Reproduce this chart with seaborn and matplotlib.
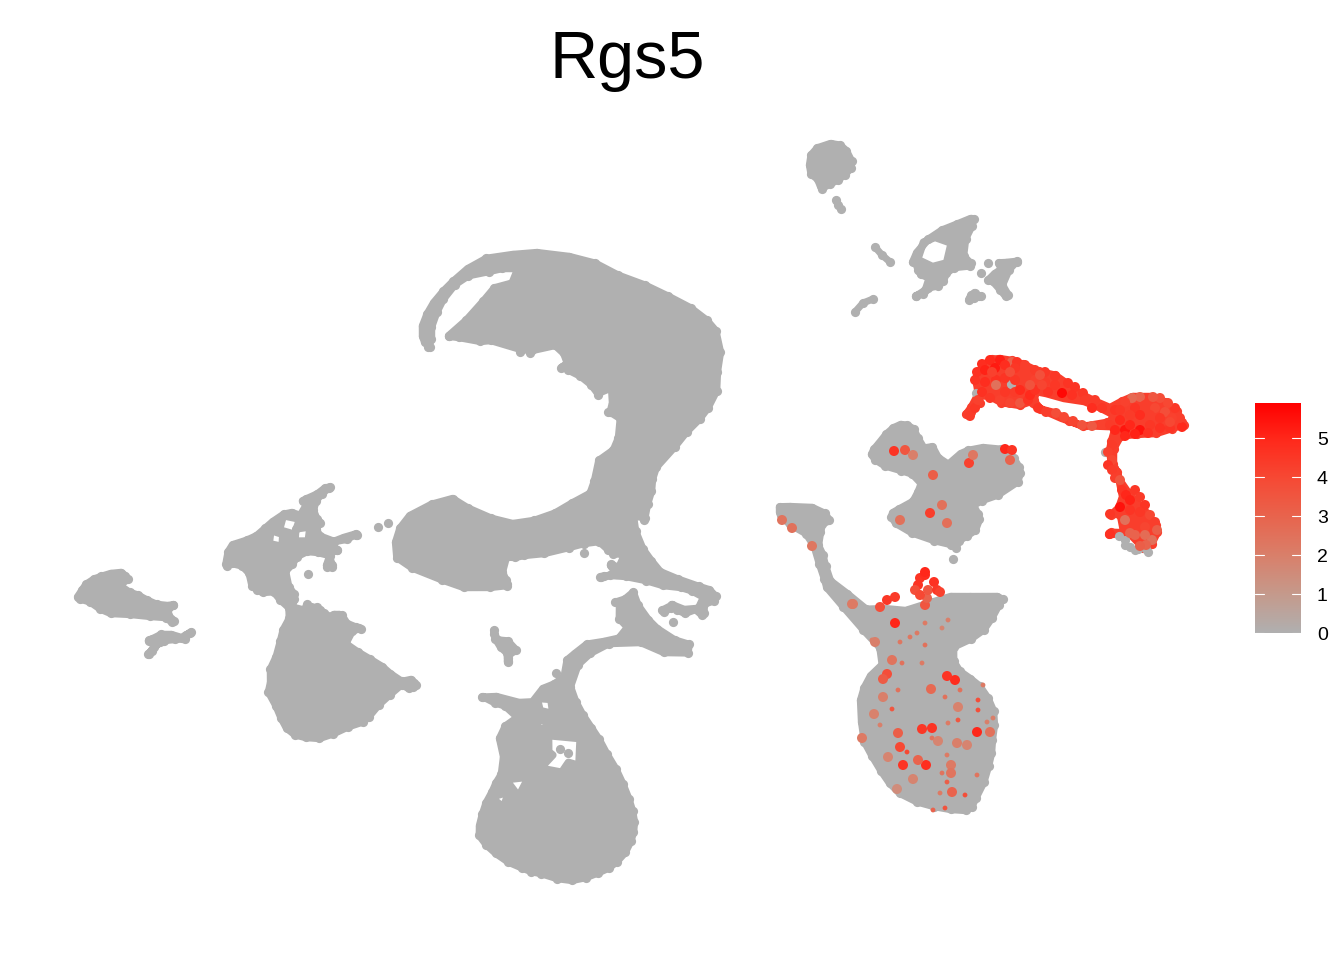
import numpy as np
import pandas as pd
import matplotlib
matplotlib.use("Agg")
import matplotlib.pyplot as plt
from matplotlib.colors import LinearSegmentedColormap, Normalize
from matplotlib.path import Path
from matplotlib.patches import PathPatch
import seaborn as sns

# ---------- data ----------
gene = "Rgs5"
legend_ticks = [0, 1, 2, 3, 4, 5]
legend_max = 5.9

# Outer limits of the densely packed cell clouds
cloud_far_left = [(73,597),(78,588),(83,581),(92,575),(100,572),(110,569),(122,568),(129,573),(132,581),(124,586),(131,588),(140,591),(149,596),(158,600),(168,601),(176,601),(177,607),(172,612),(175,617),(178,622),(172,627),(165,622),(150,621),(130,619),(110,618),(98,613),(88,606),(78,603)]
cloud_far_left_b = [(144,640),(150,635),(160,630),(172,630),(181,633),(190,628),(196,632),(190,638),(187,643),(175,644),(165,645),(157,650),(151,658),(144,655),(148,648),(155,642),(148,645)]
cloud_left = [(222,560),(224,550),(230,541),(245,536),(254,532),(262,525),(270,518),(282,510),(292,508),(299,511),(302,505),(298,500),(304,495),(315,490),(323,484),(332,483),(333,490),(325,497),(320,503),(318,510),(321,517),(325,523),(320,530),(322,532),(335,537),(345,535),(355,530),(361,533),(358,538),(345,542),(335,545),(341,548),(340,553),(333,556),(337,565),(334,571),(325,571),(322,565),(326,558),(317,557),(308,556),(300,560),(296,567),(290,572),(293,585),(298,592),(299,600),(296,605),(302,606),(306,600),(312,603),(318,603),(323,606),(327,610),(330,612),(333,610),(340,610),(345,612),(350,620),(358,623),(365,627),(362,632),(355,635),(350,642),(360,648),(372,655),(385,663),(393,670),(403,677),(412,675),(418,680),(420,686),(415,691),(408,693),(403,689),(393,698),(382,708),(372,720),(365,726),(350,731),(335,738),(320,743),(305,742),(293,739),(283,731),(277,720),(272,708),(264,693),(266,682),(266,668),(272,655),(276,640),(279,628),(285,617),(285,610),(277,603),(272,596),(262,597),(255,594),(248,588),(245,575),(240,570),(232,568),(226,571),(222,566)]
gaps_left = [[(285,520),(296,522),(293,530),(283,527)],[(272,535),(280,538),(281,542),(272,540)],[(298,533),(308,531),(306,537),(297,537)]]
cloud_crescent = [(428,351),(421,345),(418,337),(418,325),(423,312),(430,300),(440,288),(450,278),(465,265),(485,254),(512,250),(537,248),(570,252),(597,259),(620,271),(647,281),(670,292),(693,304),(710,317),(720,329),(725,352),(722,372),(721,392),(712,410),(703,422),(690,435),(678,450),(660,470),(657,480),(656,492),(652,505),(649,520),(644,525),(640,520),(638,516),(640,530),(647,547),(655,558),(663,568),(680,575),(700,582),(712,586),(720,595),(717,604),(708,607),(708,615),(702,620),(695,614),(685,618),(675,614),(672,610),(662,615),(660,610),(668,604),(672,600),(685,605),(697,604),(700,600),(690,595),(680,592),(662,590),(645,585),(625,581),(610,580),(600,581),(596,576),(603,572),(612,572),(606,566),(610,560),(618,563),(622,558),(612,558),(605,553),(598,546),(585,548),(570,552),(545,558),(525,560),(515,562),(510,560),(507,572),(510,578),(512,585),(508,590),(490,592),(463,592),(440,584),(410,572),(393,560),(391,542),(396,526),(407,512),(430,500),(453,494),(470,504),(493,514),(513,519),(533,516),(553,509),(570,499),(587,490),(590,480),(595,458),(610,447),(614,437),(616,420),(606,414),(608,402),(610,392),(597,398),(588,388),(578,380),(566,374),(560,370),(557,366),(563,362),(560,356),(555,350),(533,355),(520,354),(490,345),(480,346),(458,342),(446,340),(445,333),(463,317),(480,298),(492,284),(510,279),(515,272),(503,273),(490,276),(470,280),(458,288),(447,302),(441,314),(436,328),(436,340),(432,350)]
cloud_lower = [(612,599),(623,595),(635,588),(642,603),(652,617),(660,625),(677,636),(693,642),(690,657),(663,657),(640,647),(610,648),(593,657),(582,667),(575,687),(580,700),(587,713),(595,725),(603,737),(611,752),(620,767),(627,782),(633,797),(637,810),(639,822),(638,833),(635,843),(629,855),(620,865),(611,872),(600,877),(587,882),(572,885),(556,883),(540,878),(530,876),(520,872),(506,866),(493,857),(483,848),(475,837),(475,825),(478,813),(482,801),(488,790),(492,781),(497,773),(499,757),(495,738),(502,723),(513,717),(503,710),(493,707),(480,700),(480,693),(497,692),(520,698),(530,698),(540,685),(552,680),(560,675),(563,658),(572,650),(585,640),(603,637),(617,634),(623,628),(615,620),(615,603)]
gaps_lower = [[(550,740),(577,742),(575,763),(567,758),(560,768),(545,767),(557,757),(553,750)],[(510,782),(525,780),(518,792)],[(495,800),(507,796),(502,803)],[(540,702),(548,703),(550,710),(543,707)],[(538,723),(547,725),(540,727)]]
cloud_pill = [(490,628),(497,630),(500,636),(510,637),(520,648),(516,654),(512,660),(510,665),(504,665),(503,655),(497,650),(491,640)]
cloud_ball = [(830,139),(842,141),(850,148),(856,160),(855,170),(848,178),(840,184),(832,188),(826,190),(818,190),(814,182),(807,176),(805,165),(807,153),(815,144)]
cloud_net = [(908,262),(913,250),(925,236),(940,226),(955,220),(970,214),(978,217),(976,228),(970,240),(968,255),(975,262),(972,270),(955,272),(950,276),(947,284),(940,290),(930,292),(925,298),(915,300),(912,294),(922,287),(925,280),(918,278),(914,272),(912,265)]
gaps_net = [[(927,245),(935,242),(947,245),(943,260),(933,262),(922,258)]]
cloud_net_right = [(995,260),(1005,258),(1018,257),(1021,263),(1013,272),(1007,285),(1013,296),(1005,301),(997,293),(990,285),(984,282),(986,276),(992,270),(997,268)]
cloud_net_low = [(965,298),(968,292),(975,288),(982,293),(985,299),(975,302),(967,304)]
cloud_mid = [(867,455),(870,447),(875,441),(883,431),(891,424),(900,420),(909,421),(917,426),(922,436),(926,444),(935,443),(942,455),(947,460),(958,450),(967,446),(983,443),(1003,445),(1017,455),(1023,465),(1025,473),(1021,485),(1000,499),(983,505),(978,506),(982,512),(984,520),(979,533),(969,540),(962,544),(958,552),(950,549),(933,545),(910,537),(893,527),(887,518),(889,510),(897,505),(910,498),(914,490),(917,485),(910,478),(900,475),(883,470),(872,463)]
cloud_right = [(775,512),(777,503),(790,502),(813,503),(828,510),(834,521),(826,527),(825,533),(823,545),(827,553),(830,565),(834,578),(850,590),(868,605),(885,604),(905,606),(930,598),(950,592),(970,592),(998,592),(1007,598),(1003,607),(996,620),(987,633),(973,643),(957,650),(958,660),(963,668),(973,675),(983,683),(992,696),(998,710),(999,725),(997,740),(996,754),(993,767),(988,784),(980,800),(975,810),(967,815),(950,814),(933,811),(915,806),(897,797),(886,786),(877,773),(868,758),(860,743),(857,722),(856,700),(860,686),(867,673),(878,663),(876,650),(860,633),(840,610),(823,590),(820,580),(815,565),(810,548),(803,537),(787,528),(777,518)]
cloud_pericyte = [(966,419),(967,410),(975,402),(972,383),(973,373),(980,362),(990,355),(1000,354),(1013,356),(1025,360),(1040,367),(1057,371),(1070,380),(1083,390),(1097,397),(1110,403),(1120,397),(1132,392),(1153,392),(1167,398),(1180,408),(1186,420),(1187,428),(1173,433),(1157,438),(1137,439),(1123,440),(1118,450),(1118,463),(1123,477),(1132,490),(1150,510),(1160,523),(1162,533),(1155,547),(1143,553),(1137,548),(1127,537),(1113,538),(1105,535),(1110,528),(1120,530),(1117,518),(1109,518),(1107,513),(1115,505),(1118,497),(1113,473),(1107,465),(1105,450),(1107,440),(1110,430),(1107,427),(1083,431),(1067,425),(1053,417),(1038,413),(1033,405),(1020,410),(1000,407),(987,400),(980,400),(975,410)]
gaps_pericyte = [[(1038,396),(1045,398),(1063,403),(1083,406),(1098,412),(1110,418),(1108,422),(1083,421),(1063,414),(1047,407),(1036,401)]]

# Short runs of cells and separate cells
run_a = [(836,200),(838,205),(841,209)]
run_b = [(875,247),(882,255),(890,262)]
run_c = [(873,299),(863,303),(855,312)]
single_cells = [(308,574),(378,527),(388,523),(584,553),(575,361),(673,622),(822,189),(953,559),(988,263),(981,273),(560,749),(568,753),(556,673),(598,395),(608,412),(530,353),(520,352)]
grey_in_pericytes = [(976,393),(1011,384),(1105,452),(1125,540),(1130,547),(1138,549),(1146,549),(1119,536),(1125,545),(1135,550),(1148,552)]

# Cells with measurable expression: x, y, level
pericytes = [(970,416,4.4),(975,408,4.5),(978,400,4.2),(975,380,4.6),(977,372,4.7),(982,364,4.8),(990,360,4.9),(1000,360,5.2),(1012,362,3.0),(1017,362,4.6),(985,370,5.1),(995,368,5.3),(1005,365,4.8),(1015,368,4.5),(1025,365,4.3),(1035,370,4.4),(1045,372,4.5),(1055,376,4.5),(1068,383,4.6),(1075,387,4.6),(1083,393,4.5),(1095,400,4.4),
             (985,382,4.8),(996,380,4.7),(996,385,2.5),(1005,378,4.6),(1015,380,4.5),(1025,378,4.3),(1035,380,4.2),(1045,382,4.4),(1055,385,4.5),(1062,393,5.7),(1072,395,4.7),(1085,400,4.4),(1092,408,4.8),(1102,408,4.5),(1115,410,4.6),
             (982,392,4.7),(990,398,4.5),(1000,400,4.2),(1010,403,4.1),(1020,403,3.5),(1028,400,4.6),(1030,395,4.9),(1005,392,4.5),(1015,392,4.4),(1020,390,4.9),(1035,390,4.7),(1048,392,4.6),(1042,385,4.1),(1030,385,3.6),(992,372,4.2),(1010,372,3.8),(1040,375,3.7),
             (1038,408,4.6),(1046,412,4.3),(1056,413,3.8),(1064,417,4.0),(1073,421,4.1),(1082,425,3.6),(1092,426,3.4),(1102,425,4.2),(1110,425,4.4),
             (1120,420,4.9),(1115,430,5.0),(1125,430,5.4),(1130,425,5.0),(1140,430,5.5),(1150,425,4.5),(1160,428,4.7),(1170,428,4.6),(1182,427,4.9),(1180,418,4.3),(1175,408,4.5),(1168,403,4.0),(1160,398,3.8),(1153,397,3.5),(1140,397,3.0),(1132,398,2.8),(1125,402,4.2),(1120,410,4.5),
             (1135,408,4.6),(1145,405,4.3),(1155,408,4.0),(1165,412,3.8),(1172,418,4.2),(1130,415,4.4),(1140,415,4.8),(1150,415,4.3),(1160,418,4.5),(1170,422,4.0),(1125,436,5.0),(1135,434,5.1),(1148,433,4.7),(1112,445,4.4),(1108,452,4.2),(1112,460,4.0),(1108,465,4.6),(1112,470,4.4),(1115,478,4.3),(1120,480,3.5),(1122,490,4.6),(1126,495,5.0),(1130,500,5.1),(1135,490,4.5),(1140,497,4.4),(1145,505,4.6),
             (1120,507,5.5),(1130,510,4.6),(1140,512,4.5),(1150,515,4.0),(1155,522,4.3),(1157,530,3.2),(1152,540,2.5),(1146,545,3.0),(1140,546,3.2),(1135,525,4.3),(1145,527,4.1),(1125,520,2.5),(1135,535,3.0),(1145,535,2.7),(1130,533,3.0),(1110,514,4.5),(1110,534,4.7),
             # cells in the other clouds
             (894,451,4.6),(905,450,3.5),(913,455,2.0),(933,475,3.2),(969,463,4.2),(973,455,2.3),(1005,449,5.0),(1012,450,4.6),(1010,460,3.0),(947,523,2.6),(942,505,2.5),(930,513,4.3),(900,520,2.5),
             (782,520,2.4),(792,528,2.5),(812,546,2.3),(853,604,2.2),(880,607,3.8),(887,600,4.5),(895,597,4.4),(925,605,3.5),(927,598,3.0),(928,590,3.5),
             (918,585,4.6),(920,578,4.6),(925,575,4.8),(915,590,3.8),(920,595,4.0),(934,582,4.7),(937,590,4.5),(940,592,4.2),(925,572,5.0),
             (852,604,2.2),(895,623,5.0),(875,642,2.0),(892,660,2.4),(887,674,3.8),(883,679,3.3),(931,689,2.8),(955,680,4.8),(947,676,4.6),(883,697,2.0),(874,714,1.9),(958,707,1.9),(898,733,3.2),(922,729,4.5),(932,728,4.6),(977,732,5.0),(990,732,2.5),(938,741,1.8),(957,743,2.0),(967,745,1.8),(903,765,4.6),(926,765,4.8),(918,760,3.0),(888,757,1.8),(951,765,2.2),(951,773,2.4),(952,792,3.0),(897,789,1.5),(913,779,1.8),(900,747,4.0),(862,738,2.2)]

# Cells mostly hidden behind unexpressing neighbours: x, y, level
half_hidden = [(892,709,3.5),(902,663,2.5),(922,663,2.2),(978,700,3.8),(978,710,3.8),(983,685,2.2),(958,720,3.5),(948,723,2.2),(993,718,2.0),(987,722,2.0),(907,752,4.0),(932,738,2.4),(947,755,2.2),(942,773,2.4),(977,775,2.4),(947,782,3.2),(940,793,2.2),(965,795,3.8),(945,808,3.6),(933,810,3.0),(910,637,2.3),(900,642,2.3),(872,640,2.0),(925,623,2.2),(948,620,2.0),(942,628,1.8),(917,633,2.2),(927,606,2.0),(898,690,2.5),(945,697,2.5),(880,725,2.0),(925,645,2.5),(960,690,2.5)]

# ---------- style ----------
sns.set_theme(style="white")
plt.rcParams["font.family"] = ["Liberation Sans", "DejaVu Sans"]
cell_grey = "#B0B0B0"
stops = ["#B0B0B0", "#C59A8C", "#D9806B", "#E8654E", "#F64A35", "#FF2A1C", "#FF0000"]
expr_cmap = LinearSegmentedColormap.from_list("expr", stops)
norm = Normalize(0, legend_max)
pericyte_fill = expr_cmap(norm(4.3))
dot_radius = 4.6
px = 0.72  # points per pixel at 100 dpi


def area_for_radius(r_px):
    return (2 * r_px * px) ** 2


def pull_in(points, d):
    """Move each limit point inwards so a dot there just reaches the limit."""
    p = np.asarray(points, float)
    x, y = p[:, 0], p[:, 1]
    area = 0.5 * np.sum(x * np.roll(y, -1) - np.roll(x, -1) * y)
    t = np.roll(p, -1, axis=0) - np.roll(p, 1, axis=0)
    t /= np.maximum(np.linalg.norm(t, axis=1, keepdims=True), 1e-6)
    return p + np.sign(area) * d * np.column_stack([-t[:, 1], t[:, 0]])


def ring(p, positive):
    x, y = p[:, 0], p[:, 1]
    area = 0.5 * np.sum(x * np.roll(y, -1) - np.roll(x, -1) * y)
    return p if (area > 0) == positive else p[::-1]


fig = plt.figure(figsize=(13.44, 9.6), dpi=100)
ax = fig.add_axes([0, 0, 1, 1])


def draw_cloud(outer, gaps=(), colour=cell_grey):
    rim = ring(pull_in(outer, dot_radius), True)
    rings = [rim] + [ring(pull_in(g, -dot_radius), False) for g in gaps]
    verts, codes = [], []
    for r in rings:
        verts += list(map(tuple, r)) + [tuple(r[0])]
        codes += [Path.MOVETO] + [Path.LINETO] * (len(r) - 1) + [Path.CLOSEPOLY]
    ax.add_patch(PathPatch(Path(verts, codes), facecolor=colour, edgecolor=colour,
                           lw=7.5 * px, joinstyle="round", zorder=2))
    dots = pd.DataFrame(rim, columns=["UMAP_1", "UMAP_2"])
    sns.scatterplot(data=dots, x="UMAP_1", y="UMAP_2", color=colour, s=area_for_radius(dot_radius),
                    linewidth=0, legend=False, ax=ax, zorder=2)


def draw_run(points):
    df = pd.DataFrame(points, columns=["UMAP_1", "UMAP_2"])
    sns.lineplot(data=df, x="UMAP_1", y="UMAP_2", sort=False, estimator=None, color=cell_grey,
                 lw=7 * px, legend=False, ax=ax, zorder=2)
    sns.scatterplot(data=df, x="UMAP_1", y="UMAP_2", color=cell_grey, s=area_for_radius(dot_radius),
                    linewidth=0, legend=False, ax=ax, zorder=2)


draw_cloud(cloud_far_left)
draw_cloud(cloud_far_left_b)
draw_cloud(cloud_left, gaps_left)
draw_cloud(cloud_crescent)
draw_cloud(cloud_lower, gaps_lower)
draw_cloud(cloud_pill)
draw_cloud(cloud_ball)
draw_cloud(cloud_net, gaps_net)
draw_cloud(cloud_net_right)
draw_cloud(cloud_net_low)
draw_cloud(cloud_mid)
draw_cloud(cloud_right)
draw_cloud(cloud_pericyte, gaps_pericyte, colour=pericyte_fill)
for run in (run_a, run_b, run_c):
    draw_run(run)
singles = pd.DataFrame(single_cells + grey_in_pericytes, columns=["UMAP_1", "UMAP_2"])
sns.scatterplot(data=singles, x="UMAP_1", y="UMAP_2", color=cell_grey, s=area_for_radius(dot_radius),
                linewidth=0, legend=False, ax=ax, zorder=3)

hidden = pd.DataFrame(half_hidden, columns=["UMAP_1", "UMAP_2", "level"])
sns.scatterplot(data=hidden, x="UMAP_1", y="UMAP_2", hue="level", palette=expr_cmap, hue_norm=norm,
                s=area_for_radius(2.4), linewidth=0, legend=False, ax=ax, zorder=4)
expr = pd.DataFrame(pericytes, columns=["UMAP_1", "UMAP_2", "level"])
sns.scatterplot(data=expr, x="UMAP_1", y="UMAP_2", hue="level", palette=expr_cmap, hue_norm=norm,
                s=area_for_radius(5), linewidth=0, legend=False, ax=ax, zorder=4)

ax.set_xlim(0, 1344)
ax.set_ylim(960, 0)
ax.axis("off")

fig.text(627.5 / 1344, 1 - 78 / 960, gene, fontsize=48, color="black", ha="center", va="baseline")

# colour legend
cax = fig.add_axes([1255 / 1344, 1 - 633 / 960, 46 / 1344, 230 / 960])
gradient = np.linspace(0, legend_max, 256).reshape(-1, 1)
cax.imshow(gradient, origin="lower", aspect="auto", cmap=expr_cmap, norm=norm,
           extent=[0, 1, 0, legend_max])
cax.set_xlim(0, 1)
cax.set_ylim(0, legend_max)
cax.set_xticks([])
cax.set_yticks(legend_ticks)
cax.set_yticklabels([str(t) for t in legend_ticks], fontsize=14, color="black")
cax.yaxis.tick_right()
cax.tick_params(axis="y", length=0, pad=11.5)
for t in legend_ticks:
    cax.plot([0, 0.2], [t, t], color="white", lw=0.8)
    cax.plot([0.8, 1], [t, t], color="white", lw=0.8)
for spine in cax.spines.values():
    spine.set_visible(False)

fig.savefig("out.png", dpi=100, facecolor="white")
